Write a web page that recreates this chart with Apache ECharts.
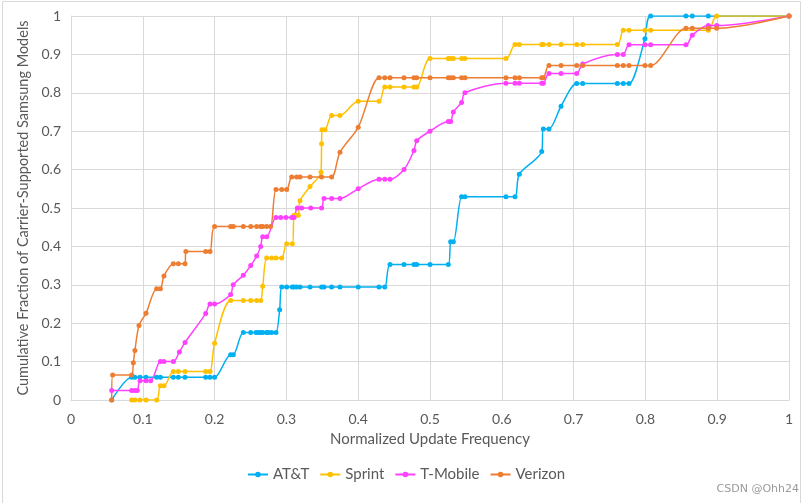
<!DOCTYPE html>
<html>
<head>
<meta charset="utf-8">
<script src="https://cdn.jsdelivr.net/npm/echarts@6/dist/echarts.min.js"></script>
<style>
html,body{margin:0;padding:0;background:#fff;}
#c{width:812px;height:503px;}
</style>
</head>
<body>
<div id="c"></div>
<script>
// ---- data ----
var xTicks = [0, 0.1, 0.2, 0.3, 0.4, 0.5, 0.6, 0.7, 0.8, 0.9, 1];
var yTicks = [0, 0.1, 0.2, 0.3, 0.4, 0.5, 0.6, 0.7, 0.8, 0.9, 1];
var seriesNames = ["AT&T", "Sprint", "T-Mobile", "Verizon"];

var attX = [0.0567,0.0845,0.089,0.0961,0.1045,0.1193,0.1245,0.1425,0.1495,0.1588,0.1876,0.1936,0.2,
  0.2224,0.226,0.24,0.2503,0.2577,0.261,0.2642,0.267,0.2725,0.2749,0.2795,0.2855,0.2906,
  0.2935,0.3004,0.3083,0.3106,0.3143,0.319,0.3329,0.349,0.3524,0.363,0.3746,0.4,0.429,0.437,
  0.4443,0.4638,0.4777,0.4815,0.5,0.5255,0.5288,0.5325,0.544,0.5487,0.6058,0.6184,0.6244,
  0.6556,0.6578,0.6657,0.6825,0.7043,0.7127,0.7609,0.7692,0.7772,0.7994,0.8073,0.8565,0.8653,0.8876,1];
var attY = [0,0.059,0.059,0.059,0.059,0.059,0.059,0.059,0.059,0.059,0.059,0.059,0.059,
  0.118,0.118,0.176,0.176,0.176,0.176,0.176,0.176,0.176,0.176,0.176,0.176,0.235,
  0.294,0.294,0.294,0.294,0.294,0.294,0.294,0.294,0.294,0.294,0.294,0.294,0.294,0.294,
  0.353,0.353,0.353,0.353,0.353,0.353,0.412,0.412,0.529,0.529,0.529,0.529,0.588,
  0.647,0.706,0.706,0.765,0.824,0.824,0.824,0.824,0.824,0.941,1,1,1,1,1];

var sprintX = [0.0845,0.089,0.0961,0.1045,0.1193,0.1245,0.1295,0.1425,0.1495,0.1588,0.1876,0.1936,0.2,
  0.2224,0.24,0.2503,0.2586,0.2642,0.267,0.2725,0.2795,0.2855,0.2935,0.3004,0.3083,0.3106,0.3134,
  0.3166,0.319,0.3329,0.3482,0.349,0.3495,0.3538,0.363,0.3746,0.4,0.429,0.437,0.4443,0.4638,0.4777,
  0.4815,0.5,0.5255,0.5288,0.5325,0.544,0.5487,0.6058,0.6184,0.6244,0.6556,0.6578,0.6657,0.6825,
  0.7043,0.7127,0.7609,0.7692,0.7772,0.7994,0.8073,0.8876,0.8993,1];
var sprintY = [0,0,0,0,0,0.037,0.037,0.074,0.074,0.074,0.074,0.074,0.148,
  0.259,0.259,0.259,0.259,0.259,0.296,0.370,0.370,0.370,0.370,0.407,0.407,0.481,0.481,
  0.481,0.519,0.556,0.593,0.667,0.704,0.704,0.741,0.741,0.778,0.778,0.815,0.815,0.815,0.815,
  0.815,0.889,0.889,0.889,0.889,0.889,0.889,0.889,0.926,0.926,0.926,0.926,0.926,0.926,
  0.926,0.926,0.926,0.963,0.963,0.963,0.963,0.963,1,1];

var tmoX = [0.0567,0.0845,0.089,0.0923,0.0961,0.1045,0.111,0.1245,0.1295,0.1425,0.1509,0.1588,0.1876,
  0.1936,0.2,0.2224,0.226,0.24,0.2503,0.2586,0.2642,0.267,0.2725,0.2855,0.292,0.2994,0.3074,0.3106,
  0.3152,0.3213,0.3338,0.349,0.3524,0.363,0.3746,0.4,0.429,0.437,0.4443,0.4638,0.4777,0.4815,0.5,
  0.5255,0.5288,0.5325,0.544,0.5487,0.6058,0.6184,0.6244,0.6556,0.6578,0.6657,0.6825,0.7043,0.7127,
  0.7609,0.7692,0.7772,0.7994,0.8073,0.8565,0.8653,0.8876,0.8993,1];
var tmoY = [0.025,0.025,0.025,0.025,0.05,0.05,0.05,0.1,0.1,0.1,0.125,0.15,0.225,
  0.25,0.25,0.275,0.3,0.325,0.35,0.375,0.4,0.425,0.425,0.475,0.475,0.475,0.475,0.475,
  0.5,0.5,0.5,0.5,0.525,0.525,0.525,0.55,0.575,0.575,0.575,0.6,0.65,0.675,0.7,
  0.725,0.725,0.75,0.775,0.8,0.825,0.825,0.825,0.825,0.825,0.85,0.85,0.85,0.875,
  0.9,0.9,0.925,0.925,0.925,0.925,0.95,0.975,0.975,1];

var verX = [0.0567,0.058,0.0845,0.0868,0.089,0.0947,0.1045,0.1193,0.1245,0.1295,0.1425,0.1495,0.1588,
  0.16,0.1876,0.1936,0.2,0.2224,0.226,0.24,0.2503,0.2586,0.2642,0.267,0.2725,0.278,0.2855,0.2935,
  0.3004,0.3074,0.3143,0.319,0.3329,0.349,0.363,0.3746,0.4,0.429,0.437,0.4443,0.4638,0.4777,0.4815,
  0.5,0.5255,0.5288,0.5325,0.544,0.5487,0.6058,0.6184,0.6244,0.6556,0.6578,0.6657,0.6825,0.7043,
  0.7127,0.7609,0.7692,0.7772,0.7994,0.8073,0.8565,0.8653,0.8876,0.8993,1];
var verY = [0,0.065,0.065,0.097,0.129,0.194,0.226,0.290,0.290,0.323,0.355,0.355,0.355,
  0.387,0.387,0.387,0.452,0.452,0.452,0.452,0.452,0.452,0.452,0.452,0.452,0.452,0.548,0.548,
  0.548,0.581,0.581,0.581,0.581,0.581,0.581,0.645,0.710,0.839,0.839,0.839,0.839,0.839,0.839,
  0.839,0.839,0.839,0.839,0.839,0.839,0.839,0.839,0.839,0.839,0.839,0.871,0.871,0.871,
  0.871,0.871,0.871,0.871,0.871,0.871,0.968,0.968,0.968,0.968,1];

var colors = ["#00B0F0", "#FFC000", "#FF40FF", "#ED7D31"];
// ---- chart ----
function pairs(xs, ys){ return xs.map(function(x,i){ return [x, ys[i]]; }); }
var allData = [pairs(attX, attY), pairs(sprintX, sprintY), pairs(tmoX, tmoY), pairs(verX, verY)];

var FONT = "Lato";
var chart = echarts.init(document.getElementById('c'), null, {renderer:'canvas'});
var option = {
  animation: false,
  backgroundColor: '#ffffff',
  color: colors,
  textStyle: {fontFamily: FONT},
  grid: {left: 71, right: 23, top: 16, bottom: 103, containLabel: false},
  xAxis: {
    type: 'value', min: xTicks[0], max: xTicks[xTicks.length-1], interval: 0.1,
    name: 'Normalized Update Frequency', nameLocation: 'middle', nameGap: 32,
    nameTextStyle: {color: '#595959', fontSize: 15, fontFamily: FONT},
    axisLine: {show: true, lineStyle: {color: '#d9d9d9', width: 1}},
    axisTick: {show: false},
    splitLine: {show: true, lineStyle: {color: '#d9d9d9', width: 1}},
    axisLabel: {color: '#595959', fontSize: 14, margin: 12, fontFamily: FONT,
      formatter: function(v){ return String(Math.round(v*10)/10); }}
  },
  yAxis: {
    type: 'value', min: yTicks[0], max: yTicks[yTicks.length-1], interval: 0.1,
    name: 'Cumulative Fraction of Carrier-Supported Samsung Models', nameLocation: 'middle', nameGap: 38,
    nameTextStyle: {color: '#595959', fontSize: 14.5, fontFamily: FONT},
    axisLine: {show: true, lineStyle: {color: '#d9d9d9', width: 1}},
    axisTick: {show: false},
    splitLine: {show: true, lineStyle: {color: '#d9d9d9', width: 1}},
    axisLabel: {color: '#595959', fontSize: 14, margin: 10, fontFamily: FONT,
      formatter: function(v){ return String(Math.round(v*10)/10); }}
  },
  legend: {
    bottom: 16, left: 'center', itemWidth: 20, itemHeight: 7, itemGap: 10,
    textStyle: {color: '#595959', fontSize: 15, fontFamily: FONT},
    data: seriesNames
  },
  series: seriesNames.map(function(n, i){
    return {
      name: n, type: 'line', data: allData[i], smooth: 0.3,
      symbol: 'circle', symbolSize: 5, showSymbol: true,
      lineStyle: {width: 1.5, color: colors[i]},
      itemStyle: {color: colors[i]}
    };
  }),
  graphic: [
    {type: 'rect', shape: {x: 2.5, y: 1.5, width: 798, height: 505}, style: {fill: 'none', stroke: '#d9d9d9', lineWidth: 1}, silent: true},
    {type: 'text', right: 13, bottom: 8, style: {text: 'CSDN @Ohh24', fill: '#999999', font: '11px "DejaVu Sans"'}}
  ]
};
chart.setOption(option);
</script>
</body>
</html>
